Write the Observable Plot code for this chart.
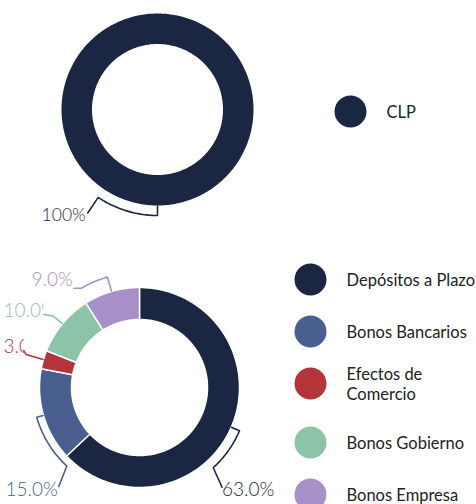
<!DOCTYPE html>
<html><head><meta charset="utf-8">
<script src="https://cdn.jsdelivr.net/npm/d3@7"></script>
<script src="https://cdn.jsdelivr.net/npm/@observablehq/plot@0.6"></script>
<style>
html,body{margin:0;padding:0;background:#fff;}
#chart svg{display:block;}
</style>
</head><body>
<div id="chart"></div>
<script>
// ---- data ----
const currencyCategories = ["CLP"];
const currencyValues = [100];
const currencyColors = ["#1b2742"];

const instrumentCategories = ["Depósitos a Plazo", "Bonos Bancarios", "Efectos de Comercio", "Bonos Gobierno", "Bonos Empresa"];
const instrumentValues = [63.0, 15.0, 3.0, 10.0, 9.0];
const instrumentColors = ["#1b2742", "#485f8f", "#b3343b", "#8dc4a7", "#a78fc7"];

// ---- layout (annotation placement, not data) ----
const W = 476, H = 504;
const topGeo = {cx: 157, cy: 109, rOuter: 96, rInner: 65.5, sep: false, fontSize: 17.5, fmt: v => d3.format(".0f")(v) + "%"};
const botGeo = {cx: 139, cy: 387, rOuter: 100, rInner: 68, sep: true, fontSize: 19, fmt: v => d3.format(".1f")(v) + "%"};
// per-slice callout: tick radius r1, arc sweep da (deg), end radius r2, end sweep dl (deg), anchor, dx, dy
const topCallouts = [{r1: 106, da: 34, r2: 124.8, dl: 34, anchor: "end", dx: -2, dy: 2.5}];
const botCallouts = [
  {r1: 109, da: 24, r2: 129.5, dl: 27, anchor: "start", dx: 0, dy: 3},
  {r1: 107, da: -31, r2: 127.7, dl: -34.6, anchor: "end", dx: -1, dy: 3},
  {r1: 118, da: 0, r2: 121.5, dl: 1.5, anchor: "end", dx: 0, dy: -3.5},
  {r1: 112, da: 0, r2: 120.4, dl: -2.3, anchor: "end", dx: 0, dy: -4},
  {r1: 115, da: -14.3, r2: 119, dl: -17.3, anchor: "end", dx: -1, dy: -8.5}
];
const topLegend = {dotX: 350, textX: 386, y0: 111, step: 52, extra: 7};
const botLegend = {dotX: 310, textX: 346, y0: 279, step: 52, extra: 7};

const RAD = Math.PI / 180;
function polar(cx, cy, r, a) { return {x: cx + r * Math.sin(a), y: cy - r * Math.cos(a)}; }
function slicePoly(g, a0, a1) {
  const n = Math.max(2, Math.ceil((a1 - a0) / RAD));
  const pts = [];
  for (let i = 0; i <= n; i++) pts.push(polar(g.cx, g.cy, g.rOuter, a0 + (a1 - a0) * i / n));
  for (let i = n; i >= 0; i--) pts.push(polar(g.cx, g.cy, g.rInner, a0 + (a1 - a0) * i / n));
  return pts;
}

const marks = [];
const labelFont = "Lato, 'Open Sans', sans-serif";

function donut(cats, vals, colors, g, callouts) {
  const arcs = d3.pie().sort(null).value(d => d)(vals);
  arcs.forEach((a, i) => {
    marks.push(Plot.line(slicePoly(g, a.startAngle, a.endAngle), {
      x: "x", y: "y", fill: colors[i],
      stroke: g.sep ? "white" : "none", strokeWidth: 1.5,
      curve: "linear-closed"
    }));
  });
  arcs.forEach((a, i) => {
    const c = callouts[i];
    const mid = (a.startAngle + a.endAngle) / 2;
    const pts = [polar(g.cx, g.cy, g.rOuter + 0.5, mid)];
    const n = Math.max(1, Math.ceil(Math.abs(c.da)));
    for (let k = 0; k <= n; k++) pts.push(polar(g.cx, g.cy, c.r1, mid + c.da * RAD * k / n));
    const end = polar(g.cx, g.cy, c.r2, mid + c.dl * RAD);
    pts.push(end);
    marks.push(Plot.line(pts, {x: "x", y: "y", stroke: colors[i], strokeWidth: 1.6, curve: "linear"}));
    marks.push(Plot.text([{x: end.x, y: end.y, label: g.fmt(vals[i])}], {
      x: "x", y: "y", text: "label", fill: colors[i],
      textAnchor: c.anchor, dx: c.dx, dy: c.dy,
      fontSize: g.fontSize, fontFamily: labelFont, fontWeight: 300,
      ariaDescription: "pct-label"
    }));
  });
}

function legend(cats, colors, L) {
  let extraLines = 0;
  const rows = cats.map((c, i) => {
    const txt = c === "Efectos de Comercio" ? "Efectos de\nComercio" : c;
    const y = L.y0 + L.step * i + L.extra * extraLines;
    extraLines += txt.split("\n").length - 1;
    return {cat: txt, color: colors[i], y};
  });
  marks.push(Plot.dot(rows, {x: () => L.dotX, y: "y", r: 16, fill: "color", stroke: "none"}));
  marks.push(Plot.text(rows, {
    x: () => L.textX, y: "y", text: "cat", textAnchor: "start", fill: "#222222",
    fontSize: 16.5, fontFamily: labelFont, lineHeight: 1.2
  }));
}

donut(currencyCategories, currencyValues, currencyColors, topGeo, topCallouts);
donut(instrumentCategories, instrumentValues, instrumentColors, botGeo, botCallouts);
legend(currencyCategories, currencyColors, topLegend);
legend(instrumentCategories, instrumentColors, botLegend);

const svg = Plot.plot({
  width: W, height: H, margin: 0,
  x: {domain: [0, W], range: [0, W], axis: null},
  y: {domain: [0, H], range: [0, H], axis: null},
  color: {type: "identity"},
  style: {background: "white", overflow: "visible"},
  marks
});
document.getElementById("chart").append(svg);

// labels that would overflow the left edge are left-aligned at the edge and clipped at their callout end
const NS = "http://www.w3.org/2000/svg";
let defs = svg.querySelector("defs");
if (!defs) { defs = document.createElementNS(NS, "defs"); svg.insertBefore(defs, svg.firstChild); }
let clipId = 0;
d3.select(svg).selectAll('g[aria-description="pct-label"] text').each(function () {
  const t = this;
  const outer = document.createElementNS(NS, "g");
  t.parentNode.insertBefore(outer, t);
  outer.appendChild(t);
  const bb = outer.getBBox();
  const minX = 3;
  if (bb.x < minX) {
    const inner = document.createElementNS(NS, "g");
    outer.insertBefore(inner, t);
    inner.appendChild(t);
    inner.setAttribute("transform", `translate(${minX - bb.x},0)`);
    const id = "lblclip" + (clipId++);
    const cp = document.createElementNS(NS, "clipPath");
    cp.setAttribute("id", id);
    const rect = document.createElementNS(NS, "rect");
    rect.setAttribute("x", -1000); rect.setAttribute("y", -1000);
    rect.setAttribute("width", 1000 + bb.x + bb.width); rect.setAttribute("height", 3000);
    cp.appendChild(rect); defs.appendChild(cp);
    outer.setAttribute("clip-path", `url(#${id})`);
  }
});
</script>
</body></html>
